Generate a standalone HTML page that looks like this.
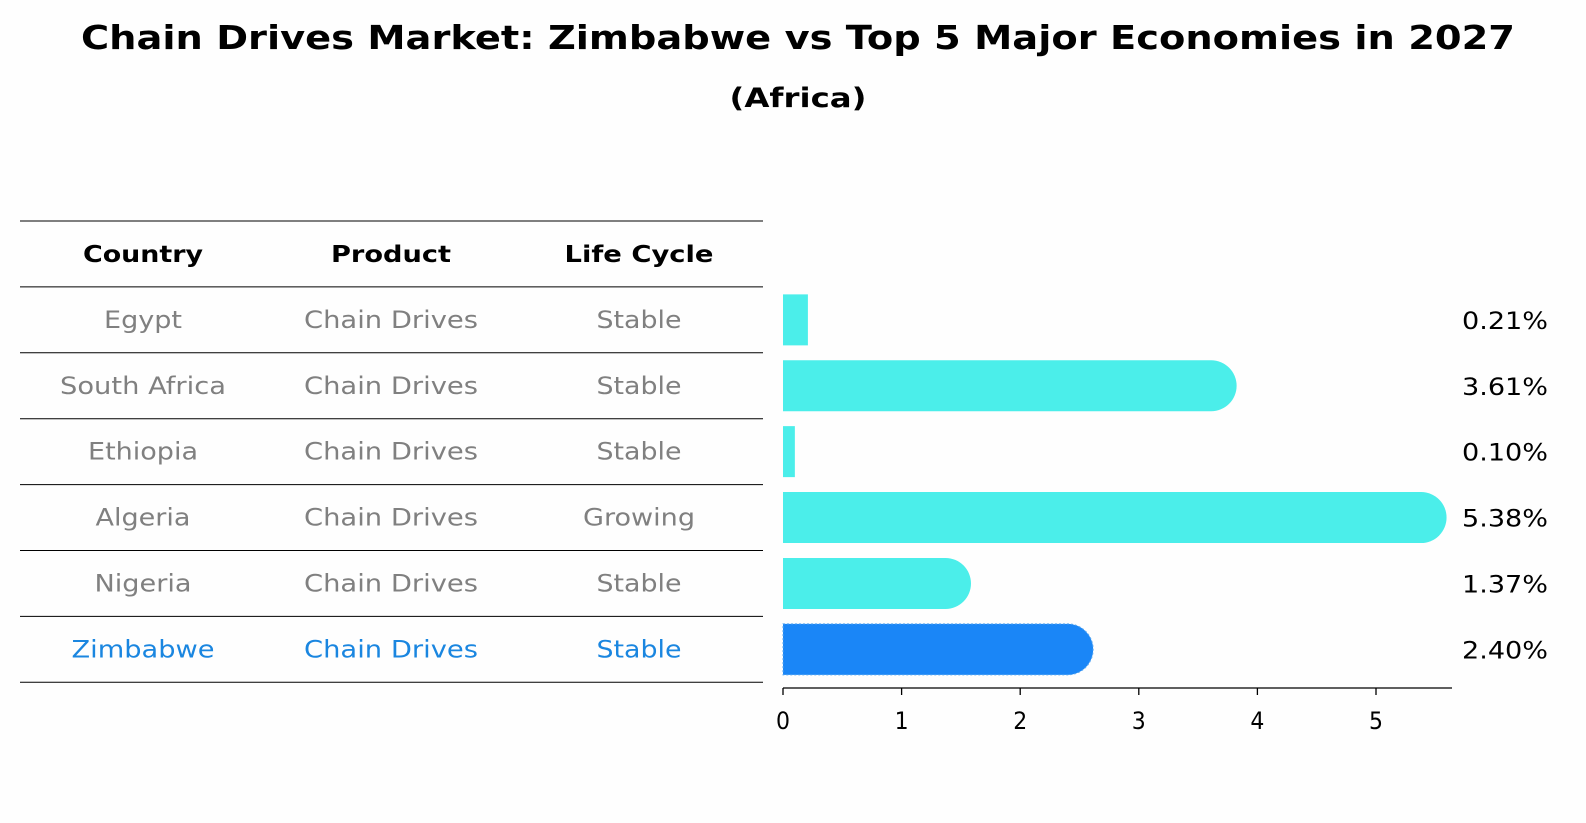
<!DOCTYPE html>
<html><head><meta charset="utf-8"><style>
html,body{margin:0;padding:0;background:#fefefe;overflow:hidden;width:1586px;height:823px;}
svg{display:block;font-family:"DejaVu Sans","Liberation Sans",sans-serif;}
</style></head><body>
<svg id="chart" width="1586" height="823" viewBox="0 0 1586 823">
<text x="798" y="49" text-anchor="middle" font-size="33" font-weight="bold" textLength="1434" lengthAdjust="spacingAndGlyphs">Chain Drives Market: Zimbabwe vs Top 5 Major Economies in 2027</text>
<text x="798" y="107" text-anchor="middle" font-size="27" font-weight="bold" textLength="137" lengthAdjust="spacingAndGlyphs">(Africa)</text>
<g id="table"></g>
<g id="bars"></g>
</svg>
<script>
const countries=["Egypt","South Africa","Ethiopia","Algeria","Nigeria","Zimbabwe"];
const products=["Chain Drives","Chain Drives","Chain Drives","Chain Drives","Chain Drives","Chain Drives"];
const lifecycles=["Stable","Stable","Stable","Growing","Stable","Stable"];
const values=[0.21,3.61,0.10,5.38,1.37,2.40];
const valueLabels=["0.21%","3.61%","0.10%","5.38%","1.37%","2.40%"];
const ticks=[0,1,2,3,4,5];
const widths={"Country":120,"Product":120,"Life Cycle":149,"Egypt":78,"South Africa":166,"Ethiopia":110,"Algeria":95,"Nigeria":97,"Zimbabwe":143,"Chain Drives":174,"Stable":85,"Growing":112};
const NS="http://www.w3.org/2000/svg";
function mk(tag,attrs,parent,txt){const e=document.createElementNS(NS,tag);for(const k in attrs)e.setAttribute(k,attrs[k]);if(txt!==undefined)e.textContent=txt;parent.appendChild(e);return e;}
const tbl=document.getElementById('table');
const colX=[143,391,639];
const rowTop=221,rowH=65.9;
const rowY=i=>rowTop+rowH*(i+1);
for(let i=0;i<=countries.length+1;i++){
 const y=rowTop+rowH*i;
 const l=mk('line',{x1:20,x2:763,y1:y,y2:y,stroke:'#000','stroke-width':1},tbl);
 
 
}
["Country","Product","Life Cycle"].forEach((h,j)=>{
 const t=mk('text',{x:colX[j],y:rowTop+rowH/2+8,'text-anchor':'middle','font-size':23,'font-weight':'bold',textLength:widths[h],lengthAdjust:'spacingAndGlyphs'},tbl,h);
 
 
});
countries.forEach((c,i)=>{
 const col=c==="Zimbabwe"?'#1a86e0':'#808080';
 [c,products[i],lifecycles[i]].forEach((v,j)=>{
  const t=mk('text',{x:colX[j],y:rowY(i)+rowH/2+8,'text-anchor':'middle','font-size':24,fill:col,textLength:widths[v]||100,lengthAdjust:'spacingAndGlyphs'},tbl,v);
  
  
 });
});
const g=document.getElementById('bars');
const x0=783,unit=118.6;
const xs=v=>x0+v*unit;
const bh=51;
const ax=mk('line',{x1:x0,x2:1452,y1:688,y2:688,stroke:'#000','stroke-width':1.3},g);


ticks.forEach(t=>{
 const l=mk('line',{x1:xs(t),x2:xs(t),y1:688,y2:695,stroke:'#000','stroke-width':1.3},g);
 
 
 const tx=mk('text',{x:xs(t),y:729,'text-anchor':'middle','font-size':24,textLength:14,lengthAdjust:'spacingAndGlyphs'},g,String(t));
 
 
});
values.forEach((v,i)=>{
 const cy=rowY(i)+rowH/2;
 const zim=countries[i]==="Zimbabwe";
 const col=zim?'#1a86f7':'#4beeea';
 const w=xs(v)-x0;
 const r=bh/2;
 let d;
 if(v>0.5){d=`M${x0},${cy-r}H${x0+w}A${r},${r} 0 0 1 ${x0+w},${cy+r}H${x0}Z`;}
 else{d=`M${x0},${cy-r}H${x0+w}V${cy+r}H${x0}Z`;}
 const p=mk('path',{d:d,fill:col},g);
 if(zim){p.setAttribute('stroke','#5aa8f0');p.setAttribute('stroke-dasharray','2 2');p.setAttribute('stroke-width','1');}
 
 
 const t=mk('text',{x:1505,y:cy+9,'text-anchor':'middle','font-size':24,textLength:86,lengthAdjust:'spacingAndGlyphs'},g,valueLabels[i]);
 
 
});
</script>
</body></html>
